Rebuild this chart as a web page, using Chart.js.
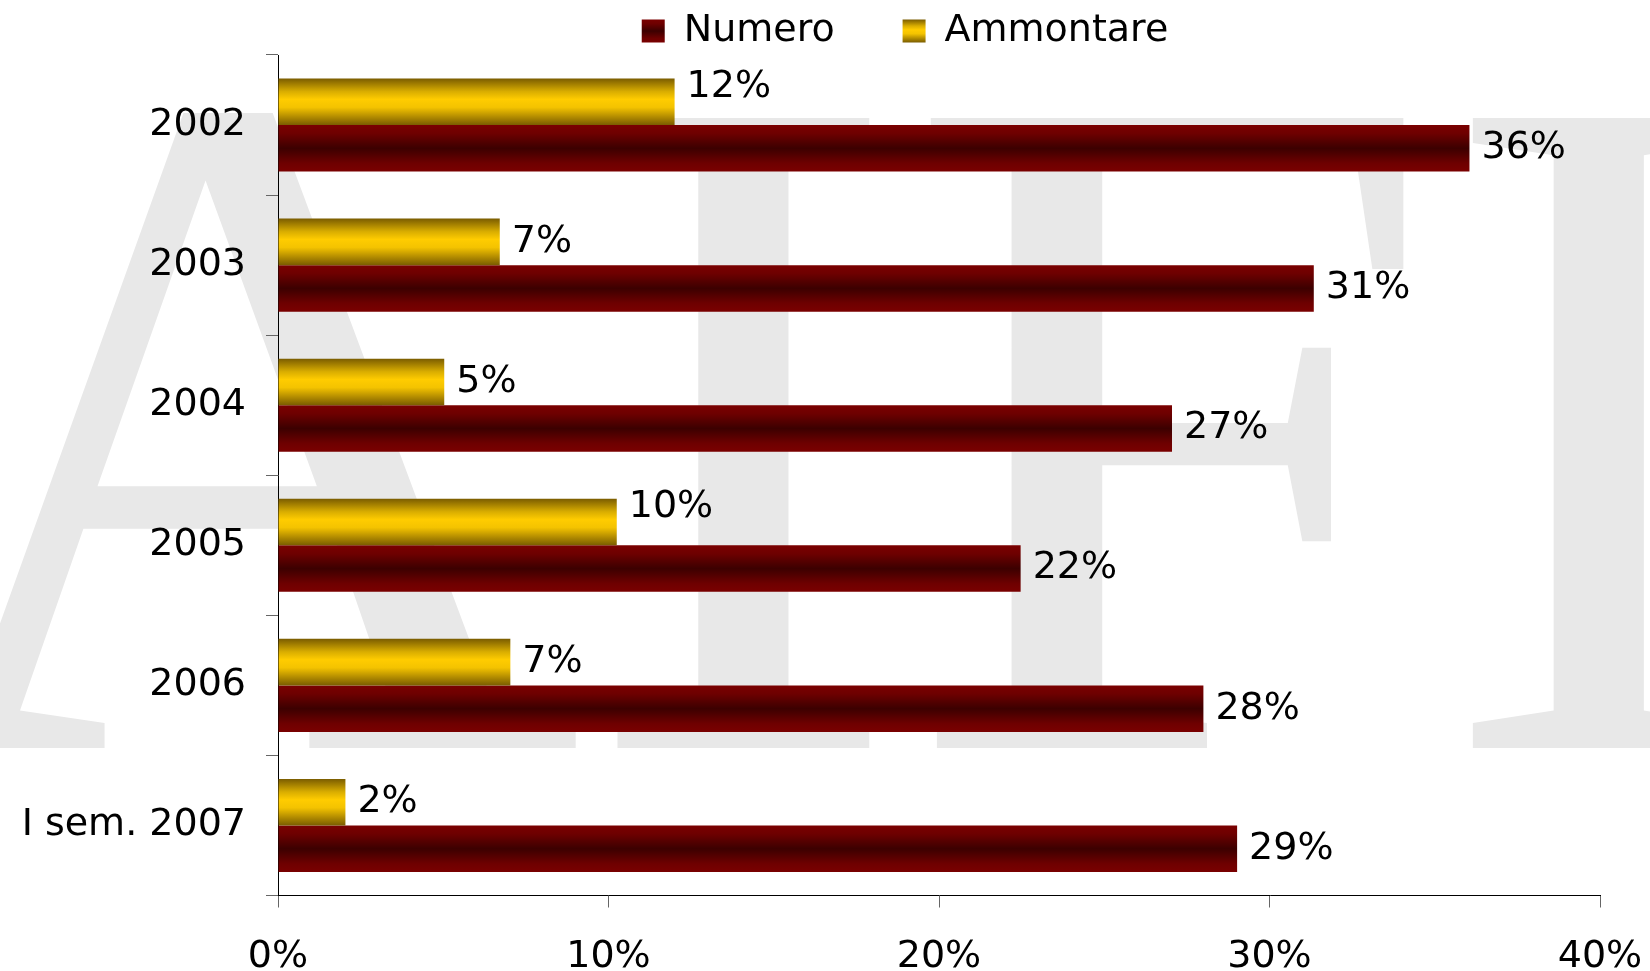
<!DOCTYPE html>
<html>
<head>
<meta charset="utf-8">
<script src="https://cdn.jsdelivr.net/npm/chart.js@4.4.0/dist/chart.umd.min.js"></script>
<style>
  html, body { margin: 0; padding: 0; background: #fff; }
  #wrap { width: 1650px; height: 971px; position: relative; }
</style>
</head>
<body>
<div id="wrap"><canvas id="myChart"></canvas></div>
<script>
const years = ['2002', '2003', '2004', '2005', '2006', 'I sem. 2007'];
const numero = [36.05, 31.34, 27.05, 22.47, 28.0, 29.02];
const ammontare = [12.0, 6.71, 5.03, 10.25, 7.03, 2.04];
const xTicks = ['0%', '10%', '20%', '30%', '40%'];

const FONT = { family: '"DejaVu Sans", Verdana, sans-serif', size: 38 };

// vertical shading like the original "tube" bars
const goldStops = [[0, '#7a5c00'], [0.28, '#d9ad00'], [0.45, '#ffcc00'], [0.62, '#f4c300'], [1, '#7a5c00']];
const redStops = [[0, '#7a0000'], [0.18, '#6e0000'], [0.5, '#3c0000'], [0.82, '#6e0000'], [1, '#7a0000']];

function barGradient(ctx, top, h, stops) {
  var g = ctx.createLinearGradient(0, top, 0, top + h);
  stops.forEach(function (s) { g.addColorStop(s[0], s[1]); });
  return g;
}

const watermark = {
  id: 'watermark',
  beforeDraw(chart) {
    var ctx = chart.ctx;
    ctx.save();
    ctx.fillStyle = '#fff';
    ctx.fillRect(0, 0, chart.width, chart.height);
    ctx.font = '962px "Liberation Serif", "Times New Roman", serif';
    ctx.fillStyle = '#e8e8e8';
    ctx.textBaseline = 'alphabetic';
    ctx.fillText('AIFI', -112, 748);
    ctx.restore();
  }
};

const shading = {
  id: 'shading',
  beforeDatasetsDraw(chart) {
    chart.data.datasets.forEach(function (ds, i) {
      chart.getDatasetMeta(i).data.forEach(function (bar) {
        var top = bar.y - bar.height / 2;
        bar.options = Object.assign({}, bar.options, {
          backgroundColor: barGradient(chart.ctx, top, bar.height, ds.stops)
        });
      });
    });
  }
};

const valueLabels = {
  id: 'valueLabels',
  afterDatasetsDraw(chart) {
    var ctx = chart.ctx;
    ctx.save();
    ctx.font = FONT.size + 'px ' + FONT.family;
    ctx.fillStyle = '#000';
    ctx.textAlign = 'left';
    ctx.textBaseline = 'middle';
    chart.data.datasets.forEach(function (ds, i) {
      chart.getDatasetMeta(i).data.forEach(function (bar, j) {
        var lift = ds.lift ? ds.lift[j] : 0;
        ctx.fillText(Math.round(ds.data[j]) + '%', bar.x + 12, bar.y - lift);
      });
    });
    ctx.restore();
  }
};

var ctx = document.getElementById('myChart').getContext('2d');
var chart = new Chart(ctx, {
  type: 'bar',
  data: {
    labels: years,
    datasets: [{
      label: 'Ammontare',
      data: ammontare,
      stops: goldStops,
      pad: '     \u2009',
      lift: [15, 0, 0, 15, 0, 0],
      backgroundColor: '#ffcc00',
      borderWidth: 0,
      categoryPercentage: 0.665,
      barPercentage: 1
    }, {
      label: 'Numero',
      data: numero,
      stops: redStops,
      pad: '    \u2009',
      backgroundColor: '#5a0000',
      borderWidth: 0,
      categoryPercentage: 0.665,
      barPercentage: 1
    }]
  },
  options: {
    indexAxis: 'y',
    responsive: true,
    maintainAspectRatio: false,
    animation: false,
    layout: { padding: 0 },
    plugins: {
      tooltip: { enabled: false },
      legend: {
        position: 'top',
        align: 'center',
        reverse: true,
        fullSize: false,
        maxHeight: 55,
        labels: {
          font: FONT,
          color: '#000',
          padding: 12,
          boxWidth: 23,
          boxHeight: 23,
          generateLabels(chart) {
            var items = Chart.defaults.plugins.legend.labels.generateLabels(chart);
            items.forEach(function (it) {
              var ds = chart.data.datasets[it.datasetIndex];
              it.text = ds.label + ds.pad;
              it.fillStyle = barGradient(chart.ctx, 19.5, 23, ds.stops);
              it.strokeStyle = 'rgba(0,0,0,0)';
              it.lineWidth = 0;
            });
            return items;
          }
        }
      }
    },
    scales: {
      x: {
        min: 0,
        max: 40,
        ticks: {
          stepSize: 10,
          font: FONT,
          color: '#000',
          padding: 27,
          maxRotation: 0,
          callback: function (v, i) { return xTicks[i]; }
        },
        grid: { drawOnChartArea: false, tickLength: 12, color: '#666' },
        border: { color: '#000', width: 1 },
        afterFit: function (s) { s.height = 75.5; s.paddingRight = 50; }
      },
      y: {
        ticks: { font: FONT, color: '#000', padding: 20 },
        grid: { drawOnChartArea: false, tickLength: 12, color: '#666', offset: true },
        border: { color: '#000', width: 1 },
        afterFit: function (s) { s.width = 278; }
      }
    }
  },
  plugins: [watermark, shading, valueLabels]
});
</script>
</body>
</html>
